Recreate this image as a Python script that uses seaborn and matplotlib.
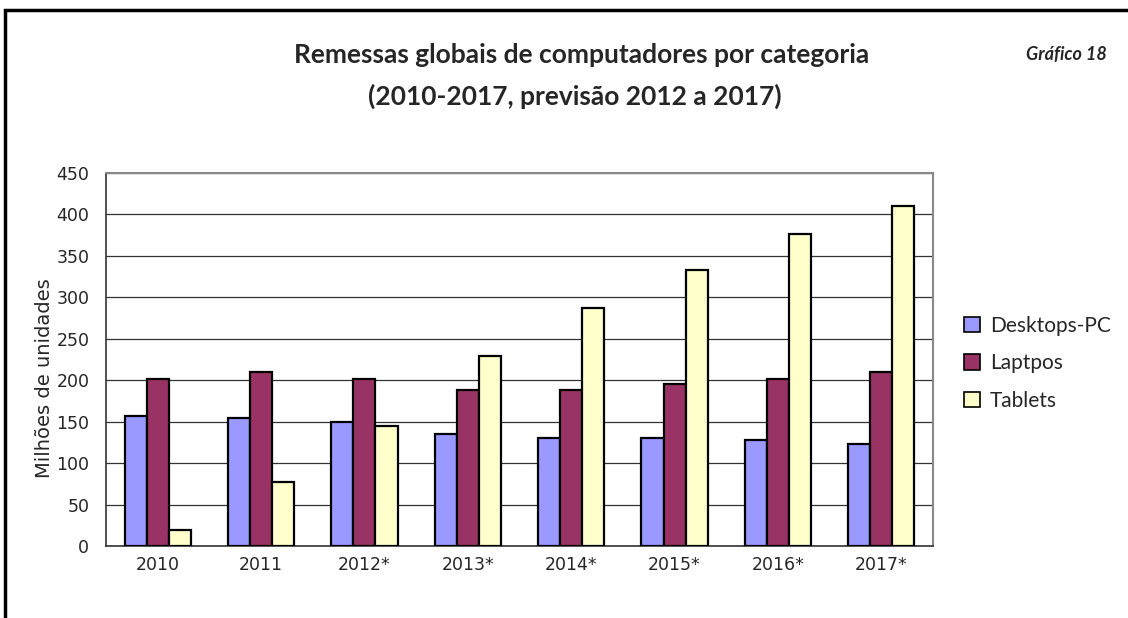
import numpy as np
import pandas as pd
import matplotlib
matplotlib.use("Agg")
import matplotlib.pyplot as plt
import seaborn as sns
from matplotlib.patches import Rectangle
from matplotlib.ticker import FixedLocator

# data (milhoes de unidades)
anos = ["2010", "2011", "2012*", "2013*", "2014*", "2015*", "2016*", "2017*"]
desktops = [157, 155, 150, 135, 130, 130, 128, 123]
laptops = [202, 210, 202, 188, 188, 195, 202, 210]
tablets = [19, 77, 145, 229, 287, 333, 376, 410]
series = ["Desktops-PC", "Laptpos", "Tablets"]
cores = ["#9999FF", "#993366", "#FFFFCC"]

df = pd.DataFrame({"ano": anos, "Desktops-PC": desktops,
                   "Laptpos": laptops, "Tablets": tablets})
df = df.melt(id_vars="ano", var_name="serie", value_name="valor")

sns.set_style("white")
plt.rcParams["font.family"] = ["Lato", "DejaVu Sans"]

fig = plt.figure(figsize=(11.28, 6.18), dpi=100)
ax = fig.add_axes([106 / 1128, 1 - 546 / 618, (933 - 106) / 1128, (546 - 173) / 618])

sns.barplot(data=df, x="ano", y="valor", hue="serie", hue_order=series,
            palette=cores, width=0.64, edgecolor="black", linewidth=1.6,
            saturation=1, ax=ax, zorder=3)

ax.set_ylim(0, 450)
ax.set_xlim(-0.5, 7.5)
ax.set_yticks(np.arange(0, 451, 50))
ax.yaxis.grid(True, color="#333333", linewidth=0.9, zorder=0)
ax.set_axisbelow(True)

ax.tick_params(axis="x", which="major", length=0, pad=7)
ax.xaxis.set_minor_locator(FixedLocator(np.arange(-0.5, 8, 1)))
ax.tick_params(axis="x", which="minor", length=6, color="#333333", width=1)
ax.tick_params(axis="y", length=7, color="#333333", width=1, pad=5)
for lbl in ax.get_xticklabels() + ax.get_yticklabels():
    lbl.set_family(["DejaVu Sans"])
    lbl.set_fontsize(12.5)

ax.set_xlabel("")
ax.set_ylabel("Milhões de unidades", fontsize=14, family=["DejaVu Sans"])
ax.yaxis.set_label_coords(-0.063, 0.45)

for side in ["left", "bottom"]:
    ax.spines[side].set_color("#333333")
    ax.spines[side].set_linewidth(1.2)
for side in ["top", "right"]:
    ax.spines[side].set_color("#888888")
    ax.spines[side].set_linewidth(1.5)

leg = ax.legend(loc="center left", bbox_to_anchor=(1.015, 0.49), frameon=False,
                fontsize=15, handlelength=0.75, handleheight=0.75,
                handletextpad=0.5, labelspacing=0.85)
for h in leg.legend_handles:
    h.set_edgecolor("black")
    h.set_linewidth(1.2)

fig.text(582 / 1128, 1 - 55 / 618, "Remessas globais de computadores por categoria",
         ha="center", va="center", fontsize=19, fontweight="bold")
fig.text(575 / 1128, 1 - 96 / 618, "(2010-2017, previsão 2012 a 2017)",
         ha="center", va="center", fontsize=19, fontweight="bold")
fig.text(1107 / 1128, 1 - 55 / 618, "Gráfico 18", ha="right", va="center",
         fontsize=13, fontweight="bold", fontstyle="italic")

# outer chart frame (runs off the right and bottom edges)
fig.patches.append(Rectangle((5 / 1128, -0.1), 1.2, 1 - 10 / 618 + 0.1,
                             transform=fig.transFigure, fill=False,
                             edgecolor="black", linewidth=2.5))

fig.savefig("out.png", dpi=100)
